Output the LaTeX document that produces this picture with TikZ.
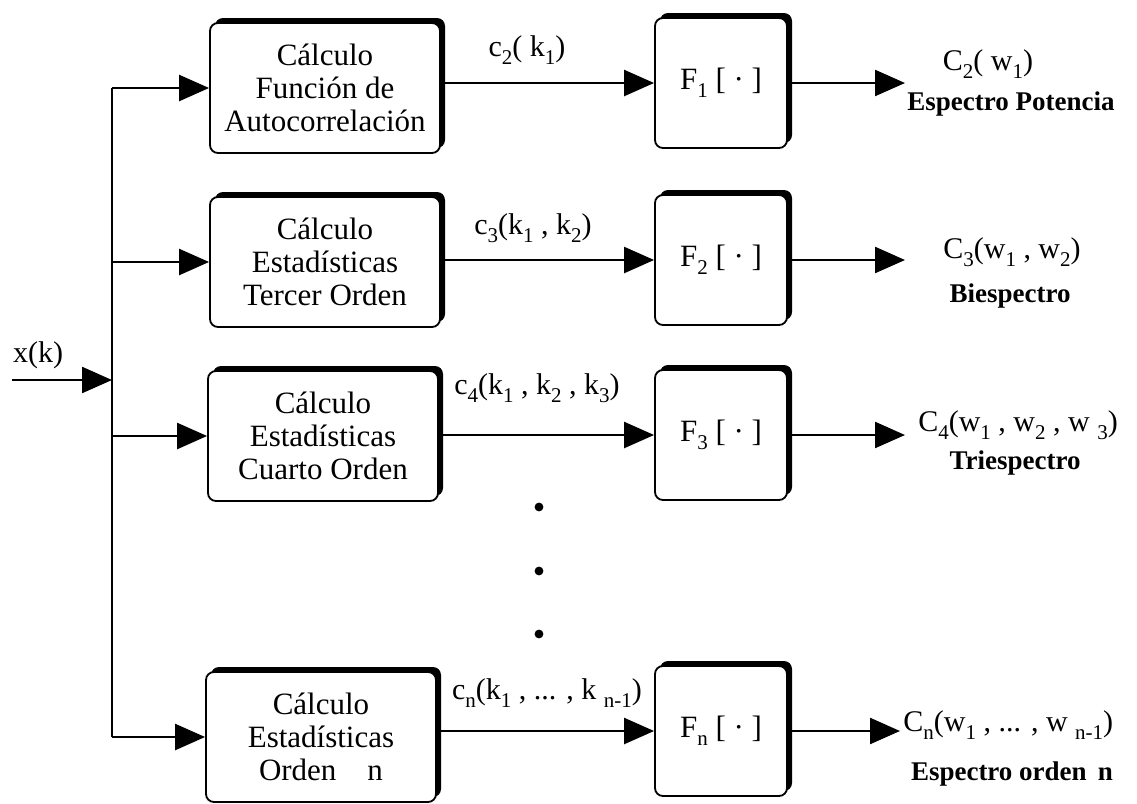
\documentclass[tikz,border=0pt]{standalone}
\usepackage{fontspec}
\setmainfont{Liberation Serif}
\usepackage{tikz}
\usetikzlibrary{positioning, arrows.meta, shadows}

\newcommand{\dn}[1]{\raisebox{-0.55ex}{\fontsize{10.5}{11}\selectfont #1}}

\begin{document}
\begin{tikzpicture}[
    x=0.5pt, y=-0.5pt,
    calcbox/.style={draw, line width=0.9pt, fill=white, rounded corners=4pt, minimum width=115pt, minimum height=65pt, align=center, font=\fontsize{15.5}{16.5}\selectfont, general shadow={fill=black, shadow xshift=2.5pt, shadow yshift=2.5pt}},
    fltbox/.style={calcbox, minimum width=66pt},
    sig/.style={font=\fontsize{15}{16}\selectfont, inner sep=0pt},
    spec/.style={font=\fontsize{13.5}{14}\selectfont\bfseries, inner sep=0pt},
    arr/.style={line width=1.2pt, -{Triangle[length=15pt, width=13pt]}},
]
    \useasboundingbox (0,0) rectangle (1137,804);

    % Calculation blocks
    \node[calcbox] (calc1) at (325, 88) {Cálculo\\Función de\\Autocorrelación};
    \node[calcbox] (calc2) at (325, 262) {Cálculo\\Estadísticas\\Tercer Orden};
    \node[calcbox] (calc3) at (323, 436) {Cálculo\\Estadísticas\\Cuarto Orden};
    \node[calcbox] (calcn) at (321, 737) {Cálculo\\Estadísticas\\Orden\quad n};

    % Transform blocks
    \node[fltbox] (F1) at (721, 83) {F\dn{1} [ · ]};
    \node[fltbox] (F2) at (721, 260) {F\dn{2} [ · ]};
    \node[fltbox] (F3) at (721, 435) {F\dn{3} [ · ]};
    \node[fltbox] (Fn) at (721, 731) {F\dn{n} [ · ]};

    % Input and bus
    \coordinate (xin) at (12, 380);
    \coordinate (bus) at (112, 380);
    \node[sig] (xlbl) at (38, 355) {x(k)};
    \draw[arr] (xin) -- (bus);
    \draw[line width=1.2pt] (bus |- calc1.west) -- (bus |- calcn.west);
    \foreach \b in {calc1, calc2, calc3, calcn}
        \draw[arr] (bus |- \b.west) -- (\b.west);

    % Block to transform
    \foreach \b/\f in {calc1/F1, calc2/F2, calc3/F3, calcn/Fn}
        \draw[arr] (\b.east |- \f.west) -- (\f.west);
    \node[sig] (c2) at (527, 50) {c\dn{2}( k\dn{1})};
    \node[sig] (c3) at (533, 228) {c\dn{3}(k\dn{1} , k\dn{2})};
    \node[sig] (c4) at (537, 388) {c\dn{4}(k\dn{1} , k\dn{2} , k\dn{3})};
    \node[sig] (cn) at (547, 693) {c\dn{n}(k\dn{1} , ... , k \dn{n-1})};

    % Dots
    \foreach \y in {507, 571, 634}
        \fill (539, \y) circle (2.2pt);

    % Outputs
    \coordinate (o1) at (905, 83);
    \coordinate (o2) at (905, 260);
    \coordinate (o3) at (905, 435);
    \coordinate (on) at (900, 731);
    \draw[arr] (F1.east) -- (o1);
    \draw[arr] (F2.east) -- (o2);
    \draw[arr] (F3.east) -- (o3);
    \draw[arr] (Fn.east) -- (on);

    \node[sig] (C2) at (988, 64) {C\dn{2}( w\dn{1})};
    \node[spec] (s2) at (1011, 104) {Espectro Potencia};
    \node[sig] (C3) at (1012, 252) {C\dn{3}(w\dn{1} , w\dn{2})};
    \node[spec] (s3) at (1010, 296) {Biespectro};
    \node[sig] (C4) at (1018, 425) {C\dn{4}(w\dn{1} , w\dn{2} , w \dn{3})};
    \node[spec] (s4) at (1015, 463) {Triespectro};
    \node[sig, anchor=west] (Cn) at (903, 725) {C\dn{n}(w\dn{1} , ... , w \dn{n-1})};
    \node[spec] (sn) at (1012, 774) {Espectro orden\, n};
\end{tikzpicture}
\end{document}
